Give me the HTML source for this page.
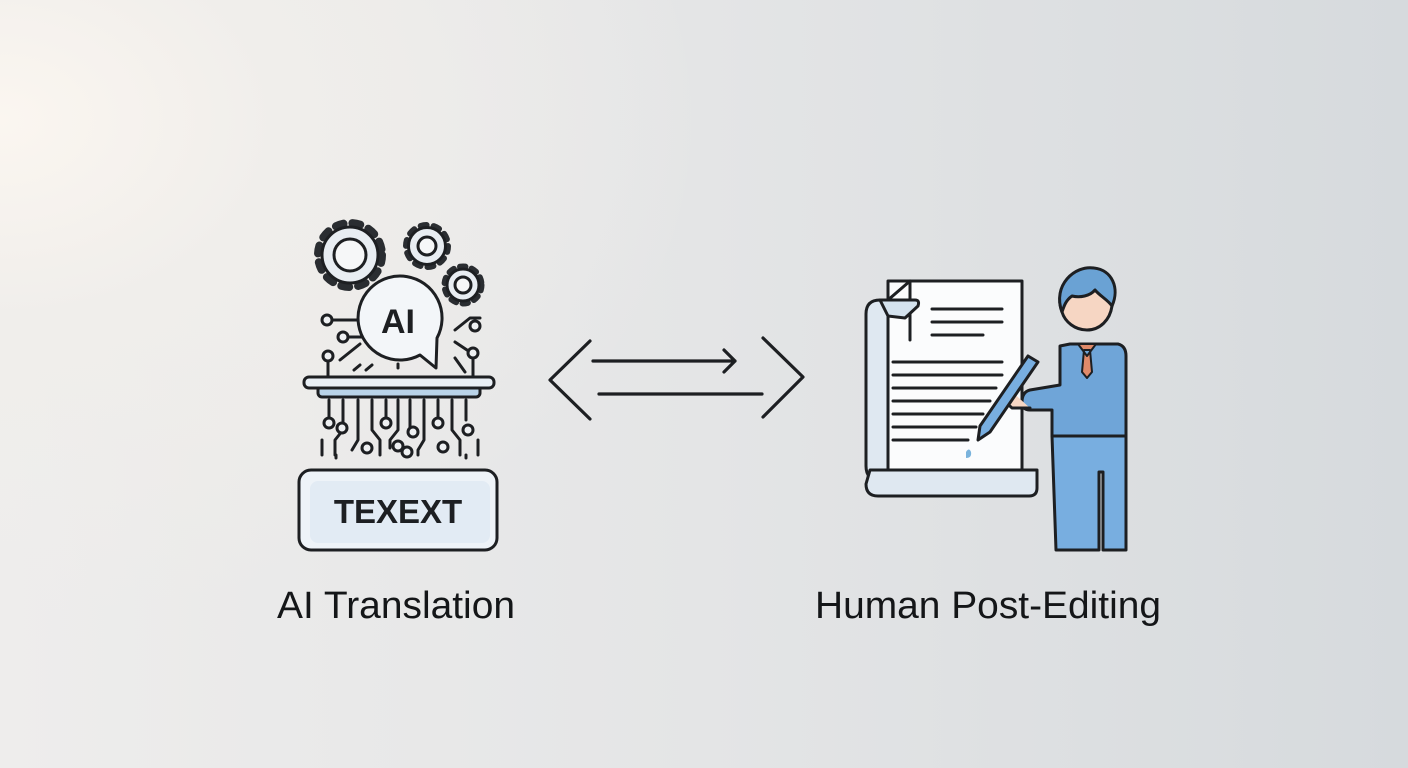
<!DOCTYPE html>
<html><head><meta charset="utf-8"><style>
html,body{margin:0;padding:0}
body{width:1408px;height:768px;overflow:hidden;background:radial-gradient(ellipse 700px 500px at 0px 120px,#fbf6f0 0%,#f0eeeb 40%,rgba(230,231,232,0) 100%),linear-gradient(90deg,#eeedec 0%,#e4e5e6 50%,#d6dadd 100%);font-family:"Liberation Sans",sans-serif}
svg{position:absolute;left:0;top:0}
</style></head><body>
<svg width="1408" height="768" viewBox="0 0 1408 768">
<g stroke="#1d1f22" stroke-width="3" stroke-linecap="round" stroke-linejoin="round" fill="none">
<!-- gears -->
<circle cx="350" cy="255" r="32" stroke-width="8" stroke-dasharray="8 9" stroke="#2a2d31"/>
<circle cx="350" cy="255" r="28" fill="#e8edf2"/>
<circle cx="350" cy="255" r="16" fill="#f6f7f8"/>
<circle cx="427" cy="246" r="21" stroke-width="6" stroke-dasharray="6 7.2" stroke="#2a2d31"/>
<circle cx="427" cy="246" r="18.5" fill="#e8edf2"/>
<circle cx="427" cy="246" r="9" fill="#f6f7f8"/>
<circle cx="463" cy="285" r="18.5" stroke-width="6" stroke-dasharray="5.5 6.5" stroke="#2a2d31"/>
<circle cx="463" cy="285" r="16" fill="#e8edf2"/>
<circle cx="463" cy="285" r="8" fill="#f6f7f8"/>
<!-- circuit top -->
<path d="M327 320 H360 M343 337 H362 M328 356 V380 M340 360 L360 344 M455 330 L470 318 H480 M470 352 L455 342 M473 356 V378 M354 370 L360 365 M366 370 L372 365 M398 364 V368 M455 358 L465 372"/>
<circle cx="327" cy="320" r="5" fill="#eef0f2"/><circle cx="343" cy="337" r="5" fill="#eef0f2"/><circle cx="328" cy="356" r="5" fill="#eef0f2"/>
<circle cx="475" cy="326" r="5" fill="#eef0f2"/><circle cx="473" cy="353" r="5" fill="#eef0f2"/>
<!-- bubble -->
<path d="M420 355 A42 42 0 1 1 437 338 L436 368 Z" fill="#f3f6f9"/>
<text x="398" y="333" font-family="Liberation Sans" font-weight="bold" font-size="34" fill="#1d1f22" stroke="none" text-anchor="middle">AI</text>
<!-- platform -->
<rect x="318" y="386" width="162" height="11" rx="4" fill="#b9d3e8"/>
<rect x="304" y="377" width="190" height="11" rx="5" fill="#e9eff5"/>
<!-- circuits below -->
<path d="M329 400 V420 M343 400 V430 L335 440 V455 M358 400 V440 L352 450 M372 400 V430 L380 440 V455 M386 400 V420 M398 400 V430 L390 440 V448 M410 400 V430 L414 436 M424 400 V440 L418 450 V455 M438 400 V420 M452 400 V430 L460 440 V455 M466 400 V420 M322 440 V455 M478 440 V455 M336 455 V458 M466 455 V458"/>
<g fill="#eef0f2"><circle cx="329" cy="423" r="5"/><circle cx="367" cy="448" r="5"/><circle cx="386" cy="423" r="5"/><circle cx="398" cy="446" r="5"/><circle cx="407" cy="452" r="5"/><circle cx="413" cy="432" r="5"/><circle cx="438" cy="423" r="5"/><circle cx="443" cy="447" r="5"/><circle cx="468" cy="430" r="5"/><circle cx="342" cy="428" r="5"/></g>
<!-- texext -->
<rect x="299" y="470" width="198" height="80" rx="12" fill="#eef3f8"/>
<rect x="310" y="481" width="180" height="62" rx="8" fill="#e2ebf4" stroke="none"/>
<text x="398" y="523" font-family="Liberation Sans" font-weight="bold" font-size="33" fill="#1d1f22" stroke="none" text-anchor="middle">TEXEXT</text>
<!-- arrows -->
<path d="M590 341 L550 380 L590 419 M763 338 L803 377 L763 417 M593 361 H735 M724 350 L735 361 L724 372 M599 394 H762" stroke-width="3.2"/>
<!-- document -->
<path d="M880 300 H895 V480 H880 Q866 480 866 466 V314 Q866 300 880 300 Z" fill="#dfe8f1"/>
<rect x="888" y="281" width="134" height="194" fill="#fbfcfd"/>
<path d="M888 300 L910 281 V340" fill="none"/>
<path d="M880 300 H915 Q920 300 918 306 L905 318 L888 316 Z" fill="#d4e2ee"/>
<path d="M870 470 H1037 V488 Q1037 496 1029 496 H878 Q866 496 866 484 Z" fill="#dfe8f1"/>
<path d="M932 309 H1002 M932 322 H1002 M932 335 H983 M893 362 H1002 M893 375 H1002 M893 388 H996 M893 401 H990 M893 414 H983 M893 427 H976 M893 440 H968" stroke-width="3"/>
<path d="M966 452 Q969 447 971 452 Q972 458 966 458 Z" fill="#7ab3dc" stroke="none"/>
<!-- person -->
<path d="M1087 278 C1065 278 1055 294 1062 312 C1065 322 1075 330 1087 330 C1100 330 1110 320 1112 306 C1115 290 1105 278 1087 278 Z" fill="#f6d6c3"/>
<path d="M1062 312 C1052 285 1075 265 1094 268 C1112 270 1120 288 1112 306 C1108 300 1100 296 1095 290 C1090 296 1080 298 1072 296 C1066 300 1064 306 1062 312 Z" fill="#6aa2d4"/>
<path d="M1070 344 L1118 344 Q1126 346 1126 356 V436 H1052 V410 L1030 410 Q1022 410 1022 402 Q1022 392 1030 390 L1060 385 V346 Z" fill="#6fa5d8"/>
<path d="M1078 344 L1087 356 L1096 344 Z M1084 350 L1090 350 L1092 372 L1087 378 L1082 372 Z" fill="#e08a6a" stroke-width="2"/>
<path d="M1052 436 H1126 V550 H1103 V472 H1099 V550 H1056 Z" fill="#78aee0"/>
<path d="M1010 390 Q1000 398 1012 408 H1030" fill="#f6d6c3"/>
<path d="M1028 356 L1038 362 L990 432 L978 440 L980 426 Z" fill="#78aee0"/>
</g>
<g font-family="Liberation Sans" font-size="38" fill="#141618" text-anchor="middle">
<text x="396" y="618" textLength="238" lengthAdjust="spacingAndGlyphs">AI Translation</text>
<text x="988" y="618" textLength="346" lengthAdjust="spacingAndGlyphs">Human Post-Editing</text>
</g>
</svg>
</body></html>
